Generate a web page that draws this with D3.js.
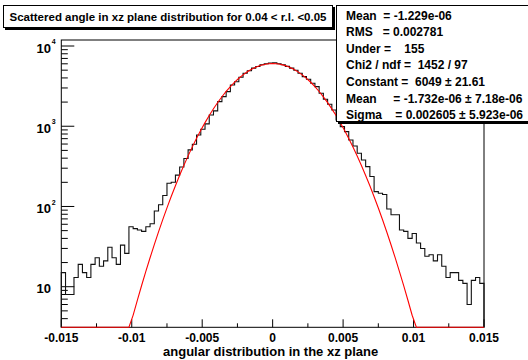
<!DOCTYPE html>
<html>
<head>
<meta charset="utf-8">
<script src="https://cdn.jsdelivr.net/npm/d3@7"></script>
<style>
  body { margin: 0; background: #fff; }
  text { font-family: "Liberation Sans", Arial, Helvetica, sans-serif; font-weight: bold; fill: #000; }
</style>
</head>
<body>
<div id="chart"></div>
<script>
// 100 bins between -0.015 and 0.015, counts
var binLow = -0.015, binHigh = 0.015;
var binCounts = [
  15, 8, 8, 13, 19, 15, 13, 19, 23, 18,
  21, 31, 23, 19, 33, 26, 56, 53, 51, 49,
  56, 61, 88, 105, 137, 195, 200, 246, 311, 397,
  507, 597, 779, 918, 1069, 1383, 1552, 2024, 2337, 2698,
  3268, 3592, 4074, 4571, 4924, 5300, 5560, 5830, 6010, 6150,
  6180, 6000, 5850, 5580, 5300, 4980, 4571, 4150, 3846, 3432,
  3113, 2576, 2168, 1879, 1596, 1198, 988, 857, 675, 568,
  461, 380, 314, 236, 153, 146, 141, 93, 79, 79,
  51, 49, 40, 46, 35, 30, 24, 25, 21, 25,
  18, 13, 15, 15, 12, 11, 6, 12, 13, 11
];

var xTicks = [-0.015, -0.01, -0.005, 0, 0.005, 0.01, 0.015];
var xTickLabels = ["-0.015", "-0.01", "-0.005", "0", "0.005", "0.01", "0.015"];
var yDecades = [10, 100, 1000, 10000];
var yDecadeExp = ["", "2", "3", "4"];

// gaus fit, parameters as printed in the stat box
var fitConstant = 6049, fitMean = -1.732e-06, fitSigma = 0.002605;

var titleText = "Scattered angle in xz plane distribution for 0.04 < r.l. <0.05";
var xTitle = "angular distribution in the xz plane";
var statLines = [
  "Mean  = -1.229e-06",
  "RMS   = 0.002781",
  "Under =    155",
  "Chi2 / ndf =  1452 / 97",
  "Constant =  6049 \u00b1 21.61",
  "Mean     = -1.732e-06 \u00b1 7.18e-06",
  "Sigma    = 0.002605 \u00b1 5.923e-06"
];

var W = 528, H = 360;
var frame = {left: 61.3, right: 484, top: 40, bottom: 327.3};

var svg = d3.select("#chart").append("svg")
    .attr("width", W).attr("height", H);

svg.append("rect").attr("width", W).attr("height", H).attr("fill", "#fff");

var x = d3.scaleLinear()
    .domain([binLow, binHigh])
    .range([frame.left, frame.right]);

var y = d3.scaleLog()
    .domain([3.12, 11880])
    .range([frame.bottom, frame.top]);

var yMin = y.domain()[0];

// frame
svg.append("rect")
    .attr("x", frame.left).attr("y", frame.top)
    .attr("width", frame.right - frame.left)
    .attr("height", frame.bottom - frame.top)
    .attr("fill", "none").attr("stroke", "#000").attr("stroke-width", 1);

// x ticks (inside, pointing up): primary every 0.005, secondary between
var xMinor = d3.range(0, 13).map(function(i) { return binLow + i * 0.0025; });
svg.append("g").selectAll("line").data(xMinor).enter().append("line")
    .attr("x1", function(d) { return x(d); })
    .attr("x2", function(d) { return x(d); })
    .attr("y1", frame.bottom)
    .attr("y2", function(d, i) { return frame.bottom - (i % 2 === 0 ? 8 : 4); })
    .attr("stroke", "#000");

svg.append("g").selectAll("text").data(xTicks).enter().append("text")
    .attr("x", function(d) { return x(d); })
    .attr("y", 342)
    .attr("text-anchor", "middle")
    .style("font-size", "12px")
    .text(function(d, i) { return xTickLabels[i]; });

svg.append("text")
    .attr("x", (frame.left + frame.right) / 2 - 2)
    .attr("y", 356)
    .attr("text-anchor", "middle")
    .style("font-size", "13px")
    .text(xTitle);

// y ticks: decades long, 2..9 short
var yMinor = [];
[1, 10, 100, 1000].forEach(function(dec) {
    for (var k = 2; k <= 9; k++) {
        var v = dec * k;
        if (v >= yMin && v <= y.domain()[1]) yMinor.push(v);
    }
});
svg.append("g").selectAll("line").data(yMinor).enter().append("line")
    .attr("x1", frame.left).attr("x2", frame.left + 6.5)
    .attr("y1", function(d) { return y(d); })
    .attr("y2", function(d) { return y(d); })
    .attr("stroke", "#000");
svg.append("g").selectAll("line").data(yDecades).enter().append("line")
    .attr("x1", frame.left).attr("x2", frame.left + 13)
    .attr("y1", function(d) { return y(d); })
    .attr("y2", function(d) { return y(d); })
    .attr("stroke", "#000");

var ylab = svg.append("g").selectAll("g").data(yDecades).enter().append("g");
ylab.append("text")
    .attr("x", 51)
    .attr("y", function(d) { return y(d) + 6.5; })
    .attr("text-anchor", "end")
    .style("font-size", "13px")
    .text("10");
ylab.append("text")
    .attr("x", 51.8)
    .attr("y", function(d) { return y(d) - 1.8; })
    .style("font-size", "7px")
    .text(function(d, i) { return yDecadeExp[i]; });

// histogram outline
var binW = (binHigh - binLow) / binCounts.length;
var pts = [[binLow, yMin]];
binCounts.forEach(function(c, i) { pts.push([binLow + i * binW, c]); });
pts.push([binHigh, binCounts[binCounts.length - 1]]);
pts.push([binHigh, yMin]);

var histLine = d3.line()
    .x(function(d) { return x(d[0]); })
    .y(function(d) { return y(Math.max(d[1], yMin)); })
    .curve(d3.curveStepAfter);

svg.append("path")
    .attr("d", histLine(pts))
    .attr("fill", "none")
    .attr("stroke", "#111")
    .attr("stroke-width", 1.1);

// fit function, 100 segments like TF1 default, clipped at the frame bottom
var fitPts = d3.range(0, 101).map(function(i) {
    var xv = binLow + i * (binHigh - binLow) / 100;
    var z = (xv - fitMean) / fitSigma;
    return [xv, Math.max(fitConstant * Math.exp(-0.5 * z * z), yMin)];
});
var fitLine = d3.line()
    .x(function(d) { return x(d[0]); })
    .y(function(d) { return y(d[1]); });

svg.append("path")
    .attr("d", fitLine(fitPts))
    .attr("fill", "none")
    .attr("stroke", "#f00")
    .attr("stroke-width", 1.1);

// title box with shadow
svg.append("rect").attr("x", 5).attr("y", 7).attr("width", 330).attr("height", 23).attr("fill", "#000");
svg.append("rect").attr("x", 3.5).attr("y", 5.5).attr("width", 329).attr("height", 22)
    .attr("fill", "#fff").attr("stroke", "#000");
svg.append("text")
    .attr("x", 168).attr("y", 21)
    .attr("text-anchor", "middle")
    .style("font-size", "11.5px")
    .text(titleText);

// stat box
svg.append("rect").attr("x", 338).attr("y", 7).attr("width", 200).attr("height", 117).attr("fill", "#000");
svg.append("rect").attr("x", 336.5).attr("y", 5.5).attr("width", 200).attr("height", 116)
    .attr("fill", "#fff").attr("stroke", "#000");
svg.append("g").selectAll("text").data(statLines).enter().append("text")
    .attr("x", 346)
    .attr("y", function(d, i) { return 19.5 + i * 16.6; })
    .style("font-size", "12px")
    .style("white-space", "pre")
    .text(function(d) { return d; });
</script>
</body>
</html>
